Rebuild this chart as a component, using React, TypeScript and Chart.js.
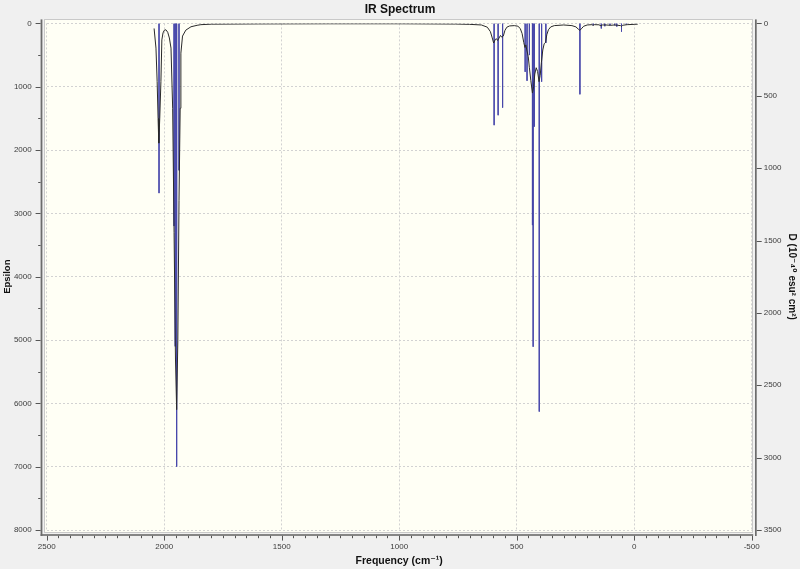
import React, { useEffect, useRef } from "react";
import { Chart, registerables } from "chart.js";

Chart.register(...registerables);

// ---- Data ----
// Stick transitions: frequency (cm-1) and epsilon
const stickFreq = [2022, 1958, 1953, 1947, 1937, 596, 579, 560, 464, 456, 446, 433, 430, 425, 404, 394, 376, 231, 174, 140, 125, 103, 83, 74, 54, 34];
const stickEps = [2680, 3200, 5100, 7000, 2320, 1607, 1450, 1330, 765, 906, 500, 3185, 5106, 1630, 6130, 920, 310, 1120, 30, 80, 45, 30, 30, 50, 130, 15];

// Broadened spectrum trace: frequency (cm-1) and epsilon
const curveFreq = [
  2043, 2035, 2030, 2026, 2023, 2019, 2014, 2010, 2005, 2000, 1993, 1985, 1978, 1971, 1964, 1958, 1952, 1947, 1942, 1937,
  1932, 1929, 1922, 1908, 1886, 1860, 1844, 1800, 1600, 1300, 1000, 760, 700, 650, 625, 612, 604, 598, 592, 587,
  581, 575, 569, 563, 557, 550, 542, 530, 510, 495, 485, 477, 470, 465, 461, 457, 451, 446, 440, 433,
  428, 423, 417, 411, 405, 400, 395, 389, 383, 377, 372, 365, 355, 340, 300, 265, 248, 238, 231, 225,
  215, 200, 180, 175, 170, 150, 141, 135, 120, 100, 85, 70, 58, 54, 50, 30, 0, -15,
];
const curveEps = [
  80, 390, 920, 1500, 1890, 1500, 920, 260, 150, 110, 100, 140, 230, 390, 1340, 3300, 5300, 6100, 5000, 2800,
  1340, 470, 200, 106, 53, 30, 20, 12, 8, 6, 6, 10, 15, 25, 60, 130, 230, 310, 260, 240,
  270, 230, 190, 220, 200, 110, 60, 40, 35, 45, 80, 160, 300, 380, 340, 420, 520, 700, 900, 1100,
  1000, 800, 700, 760, 920, 820, 620, 420, 320, 300, 180, 100, 55, 35, 25, 35, 55, 90, 110, 85,
  45, 25, 20, 30, 20, 22, 40, 25, 25, 30, 25, 30, 35, 50, 30, 20, 15, 12,
];

// Axis ranges and tick steps
const freqRange = [-500, 2500];
const freqMajorStep = 500;
const freqMinorStep = 50;
const epsRange = [0, 8000];
const epsMajorStep = 1000;
const epsMinorStep = 500;
const dRange = [0, 3500];
const dStep = 500;

const FONT = "'Liberation Sans', 'DejaVu Sans', Arial, sans-serif";

const framePlugin = {
  id: "irFrame",
  beforeDraw(chart: any) {
    const { ctx, chartArea: a, width, height } = chart;
    ctx.save();
    ctx.fillStyle = "#f0f0f0";
    ctx.fillRect(0, 0, width, height);
    const L = a.left - 2.5, T = a.top - 4, R = a.right + 1.5, B = a.bottom + 3;
    ctx.fillStyle = "#fffff5";
    ctx.fillRect(L, T, R - L, B - T);
    ctx.strokeStyle = "#c9c9c9";
    ctx.lineWidth = 1;
    ctx.strokeRect(Math.round(L) + 0.5, Math.round(T) + 0.5, Math.round(R - L) - 1, Math.round(B - T) - 1);
    ctx.restore();
  },
  afterDraw(chart: any) {
    const { ctx, chartArea: a } = chart;
    const sx = chart.scales.x, sy = chart.scales.y, sy2 = chart.scales.y2;
    const L = a.left - 2.5, T = a.top - 4, R = a.right + 1.5, B = a.bottom + 3;
    ctx.save();
    ctx.fillStyle = "#6c6c6c";
    // axis lines
    ctx.fillRect(L - 3.6, T, 1.8, B - T + 3);
    ctx.fillRect(L - 3.6, B + 1.2, R - L + 3.6, 1.6);
    ctx.fillRect(R + 1.8, T, 1.7, B - T + 3);
    // tick marks
    ctx.strokeStyle = "#555";
    ctx.lineWidth = 1;
    ctx.beginPath();
    for (let v = freqRange[0]; v <= freqRange[1]; v += freqMinorStep) {
      const px = Math.round(sx.getPixelForValue(v)) + 0.5;
      const len = v % freqMajorStep === 0 ? 4.8 : 2.4;
      ctx.moveTo(px, B + 2.8);
      ctx.lineTo(px, B + 2.8 + len);
    }
    for (let v = epsRange[0]; v <= epsRange[1]; v += epsMinorStep) {
      const py = Math.round(sy.getPixelForValue(v)) + 0.5;
      const len = v % epsMajorStep === 0 ? 5 : 2.4;
      ctx.moveTo(L - 3.6, py);
      ctx.lineTo(L - 3.6 - len, py);
    }
    for (let v = dRange[0]; v <= dRange[1]; v += dStep) {
      const py = Math.round(sy2.getPixelForValue(v)) + 0.5;
      ctx.moveTo(R + 3.5, py);
      ctx.lineTo(R + 8.5, py);
    }
    ctx.stroke();
    ctx.restore();
  },
};

export default function App() {
  const canvasRef = useRef<HTMLCanvasElement | null>(null);

  useEffect(() => {
    const canvas = canvasRef.current;
    if (!canvas) return;

    const curveData = curveFreq.map((f, i) => ({ x: f, y: curveEps[i] }));
    const stickData: { x: number; y: number | null }[] = [];
    stickFreq.forEach((f, i) => {
      stickData.push({ x: f, y: 0 }, { x: f, y: stickEps[i] }, { x: f, y: null });
    });

    const tickFont = { family: FONT, size: 8 };
    const fmt = (v: any) => String(v);

    const chart = new Chart(canvas, {
      type: "scatter",
      data: {
        datasets: [
          {
            label: "Spectrum",
            data: curveData,
            showLine: true,
            borderColor: "#2a2a2a",
            borderWidth: 1,
            pointRadius: 0,
            tension: 0,
            yAxisID: "y",
          },
          {
            label: "Sticks",
            data: stickData as any,
            showLine: true,
            spanGaps: false,
            borderColor: "rgba(70,70,170,0.9)",
            borderWidth: 1,
            pointRadius: 0,
            tension: 0,
            yAxisID: "y",
          },
        ],
      },
      options: {
        animation: false,
        responsive: false,
        devicePixelRatio: 1,
        layout: { padding: 0 },
        plugins: {
          legend: { display: false },
          tooltip: { enabled: false },
          title: {
            display: true,
            text: "IR Spectrum",
            color: "#111",
            font: { family: FONT, size: 12, weight: "bold" },
            padding: { top: 2, bottom: 7 },
          },
        },
        scales: {
          x: {
            type: "linear",
            position: "bottom",
            min: freqRange[0],
            max: freqRange[1],
            reverse: true,
            ticks: { stepSize: freqMajorStep, padding: 12, color: "#3c3c3c", font: tickFont, callback: fmt, maxRotation: 0, autoSkip: false },
            grid: { color: "#d2d2d2", drawTicks: false, lineWidth: 1 },
            border: { display: false, dash: [2, 2] },
            title: {
              display: true,
              text: "Frequency (cm⁻¹)",
              color: "#111",
              font: { family: FONT, size: 10.5, weight: "bold" },
              padding: { top: 0, bottom: 1.3 },
            },
            afterFit: (s: any) => {
              s.height = 39;
            },
          },
          y: {
            type: "linear",
            position: "left",
            min: epsRange[0],
            max: epsRange[1],
            reverse: true,
            ticks: { stepSize: epsMajorStep, padding: 15, color: "#3c3c3c", font: tickFont, callback: fmt },
            grid: { color: "#d2d2d2", drawTicks: false, lineWidth: 1 },
            border: { display: false, dash: [2, 2] },
            title: {
              display: true,
              text: "Epsilon",
              color: "#111",
              font: { family: FONT, size: 9.5, weight: "bold" },
              padding: { top: 1.2, bottom: 0 },
            },
            afterFit: (s: any) => {
              s.width = 46.7;
            },
          },
          y2: {
            type: "linear",
            position: "right",
            min: dRange[0],
            max: dRange[1],
            reverse: true,
            ticks: { stepSize: dStep, padding: 12, color: "#3c3c3c", font: tickFont, callback: fmt },
            grid: { drawOnChartArea: false, drawTicks: false },
            border: { display: false },
            title: {
              display: true,
              text: "D (10⁻⁴⁰ esu² cm²)",
              color: "#111",
              font: { family: FONT, size: 10, weight: "bold" },
              padding: { top: 2, bottom: 0 },
            },
            afterFit: (s: any) => {
              s.width = 48.3;
            },
          },
        },
      },
      plugins: [framePlugin],
    } as any);

    return () => chart.destroy();
  }, []);

  return (
    <div style={{ position: "fixed", left: 0, top: 0, width: 800, height: 569, background: "#f0f0f0" }}>
      <canvas ref={canvasRef} width={800} height={569} style={{ display: "block", width: 800, height: 569 }} />
    </div>
  );
}
